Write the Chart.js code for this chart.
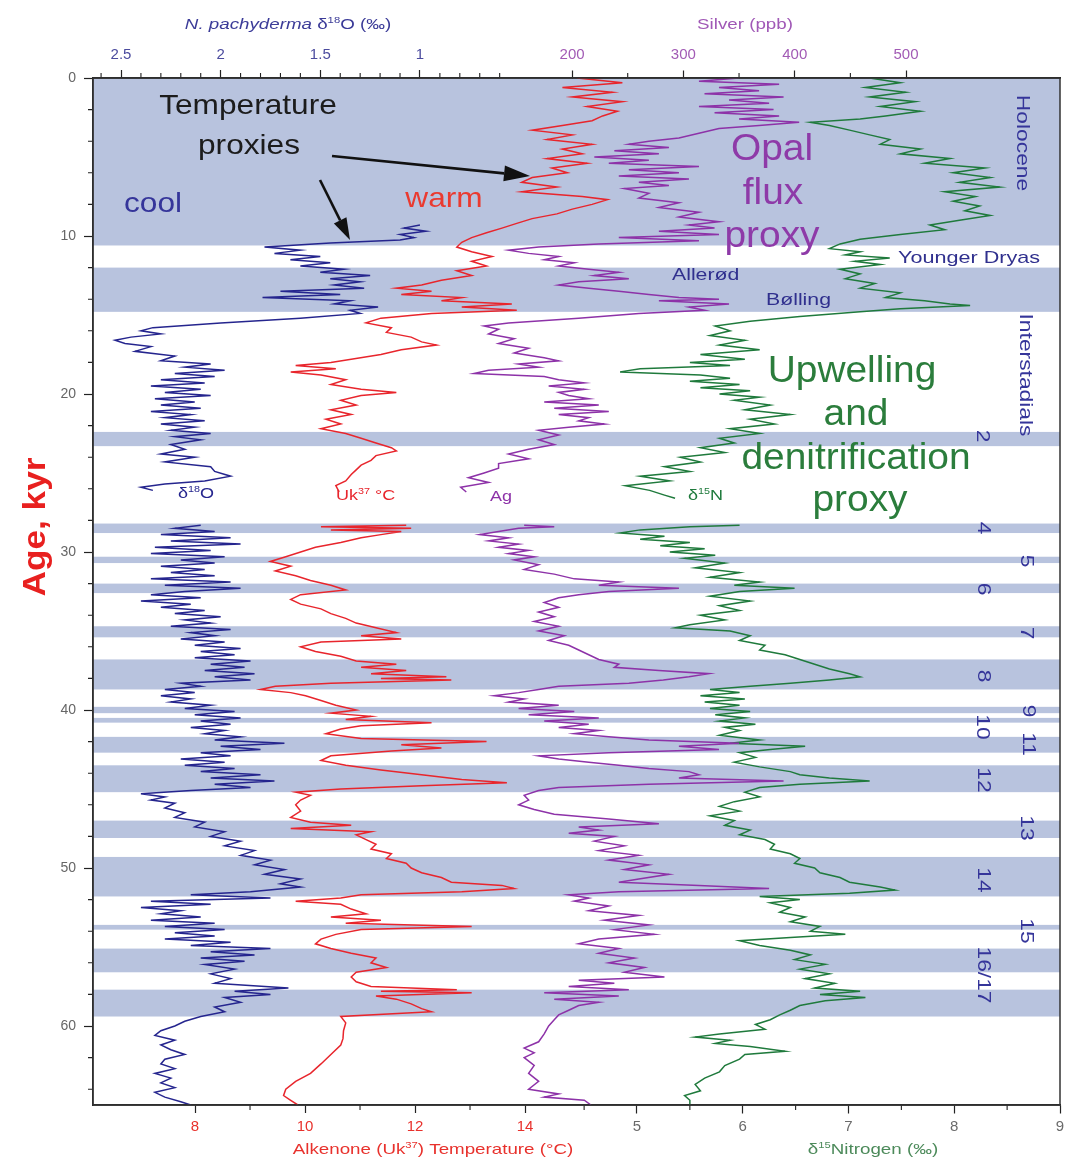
<!DOCTYPE html>
<html>
<head>
<meta charset="utf-8">
<script src="https://cdn.jsdelivr.net/npm/chart.js@4.4.1/dist/chart.umd.min.js"></script>
<style>
  html, body { margin: 0; padding: 0; background: #fff; }
  #wrap { width: 1066px; height: 1163px; position: relative; }
</style>
</head>
<body>
<div id="wrap"><canvas id="chart"></canvas></div>
<script>
// Santa Barbara Basin records against age (kyr). Each entry is [age, value];
// a null value breaks the line where the core has no data.
const d18oRecord = [
  [9.3, 1.00], [9.5, 1.08], [9.7, 0.97], [9.9, 1.10], [10.1, 1.03], [10.25, 1.10], [10.45, 1.45], [10.7, 1.78],
  [10.9, 1.60], [11.1, 1.73], [11.3, 1.50], [11.5, 1.65], [11.7, 1.45], [11.9, 1.60], [12.1, 1.38], [12.3, 1.50],
  [12.5, 1.25], [12.7, 1.45], [12.9, 1.30], [13.1, 1.43], [13.3, 1.28], [13.5, 1.70], [13.7, 1.40], [13.9, 1.79],
  [14.1, 1.35], [14.3, 1.43], [14.5, 1.21], [14.7, 1.35], [14.9, 1.30], [15.2, 1.60], [15.5, 2.00], [15.8, 2.34],
  [16.0, 2.40], [16.2, 2.30], [16.4, 2.45], [16.6, 2.53], [16.8, 2.48], [17.0, 2.35], [17.3, 2.43], [17.6, 2.23],
  [17.9, 2.30], [18.1, 2.05], [18.3, 2.18], [18.5, 1.98], [18.7, 2.23], [18.9, 2.03], [19.1, 2.30], [19.3, 2.08],
  [19.5, 2.35], [19.7, 2.10], [19.9, 2.28], [20.1, 2.05], [20.3, 2.33], [20.5, 2.13], [20.7, 2.30], [20.9, 2.10],
  [21.1, 2.35], [21.3, 2.15], [21.5, 2.28], [21.7, 2.08], [21.9, 2.30], [22.1, 2.13], [22.3, 2.25], [22.5, 2.05],
  [22.7, 2.23], [22.9, 2.10], [23.2, 2.25], [23.5, 2.18], [23.8, 2.30], [24.0, 2.13], [24.3, 2.28], [24.6, 2.05],
  [24.9, 2.03], [25.2, 1.95], [25.5, 2.08], [25.7, 2.28], [25.9, 2.40], [26.1, 2.34], [27.2, null],
  [28.3, 2.10], [28.5, 2.23], [28.7, 2.03], [28.9, 2.30], [29.1, 1.95], [29.3, 2.25], [29.5, 1.90], [29.7, 2.33],
  [29.9, 2.05], [30.1, 2.35], [30.3, 1.98], [30.5, 2.20], [30.7, 2.03], [30.9, 2.30], [31.1, 2.08], [31.3, 2.25],
  [31.5, 2.03], [31.7, 2.35], [31.9, 1.95], [32.1, 2.28], [32.3, 1.90], [32.5, 2.18], [32.7, 2.35], [32.9, 2.10],
  [33.1, 2.40], [33.3, 2.15], [33.5, 2.30], [33.7, 2.08], [33.9, 2.23], [34.1, 2.00], [34.3, 2.18], [34.5, 2.05],
  [34.7, 2.25], [34.9, 1.95], [35.1, 2.15], [35.3, 2.03], [35.5, 2.20], [35.7, 1.98], [35.9, 2.13], [36.1, 1.90],
  [36.3, 2.10], [36.5, 1.93], [36.7, 2.13], [36.9, 1.85], [37.1, 2.05], [37.3, 1.88], [37.5, 2.08], [37.7, 1.83],
  [37.9, 2.03], [38.1, 1.85], [38.3, 2.20], [38.5, 2.10], [38.7, 2.28], [38.9, 2.13], [39.1, 2.30], [39.3, 2.15],
  [39.5, 2.25], [39.7, 2.05], [39.9, 2.18], [40.1, 1.93], [40.3, 2.13], [40.5, 1.90], [40.7, 2.10], [40.9, 1.95],
  [41.1, 2.15], [41.3, 1.98], [41.5, 2.08], [41.7, 1.90], [41.9, 2.03], [42.1, 1.68], [42.3, 2.00], [42.5, 1.80],
  [42.7, 2.10], [42.9, 1.95], [43.1, 2.20], [43.3, 1.98], [43.5, 2.18], [43.7, 1.93], [43.9, 2.10], [44.1, 1.80],
  [44.3, 2.05], [44.5, 1.73], [44.7, 2.03], [44.9, 1.85], [45.1, 2.15], [45.3, 2.40], [45.5, 2.28], [45.7, 2.35],
  [45.9, 2.23], [46.2, 2.28], [46.5, 2.18], [46.8, 2.23], [47.1, 2.08], [47.4, 2.13], [47.7, 1.98], [48.0, 2.05],
  [48.3, 1.90], [48.6, 1.98], [48.9, 1.83], [49.2, 1.90], [49.5, 1.75], [49.8, 1.83], [50.1, 1.68], [50.4, 1.78],
  [50.7, 1.60], [51.0, 1.70], [51.2, 1.60], [51.5, 1.85], [51.7, 2.15], [51.9, 1.75], [52.1, 2.35], [52.3, 2.05],
  [52.5, 2.40], [52.7, 2.20], [52.9, 2.30], [53.1, 2.10], [53.3, 2.35], [53.5, 2.03], [53.7, 2.28], [53.9, 1.98],
  [54.1, 2.23], [54.3, 2.03], [54.5, 2.28], [54.7, 1.95], [54.9, 2.15], [55.1, 1.75], [55.3, 2.05], [55.5, 1.83],
  [55.7, 2.10], [55.9, 1.88], [56.1, 2.08], [56.4, 1.93], [56.7, 2.05], [57.0, 1.95], [57.3, 2.03], [57.6, 1.66],
  [57.8, 1.93], [58.0, 1.75], [58.2, 1.98], [58.5, 1.90], [58.8, 2.03], [59.1, 1.98], [59.4, 2.10], [59.7, 2.18],
  [60.0, 2.23], [60.3, 2.30], [60.6, 2.33], [60.9, 2.23], [61.2, 2.30], [61.5, 2.25], [61.8, 2.18], [62.1, 2.28],
  [62.4, 2.30], [62.7, 2.23], [63.0, 2.33], [63.3, 2.25], [63.6, 2.30], [63.9, 2.23], [64.2, 2.33], [64.5, 2.28],
  [64.8, 2.20], [65.0, 2.15]
];

const alkenoneRecord = [
  [0.0, 14.95], [0.3, 15.77], [0.6, 14.68], [0.9, 15.59], [1.2, 14.86], [1.5, 15.77], [1.8, 15.13], [2.1, 15.68],
  [2.4, 15.41], [2.7, 15.22], [3.0, 14.68], [3.3, 14.13], [3.6, 14.86], [3.9, 14.40], [4.2, 15.22], [4.5, 14.68],
  [4.8, 15.04], [5.1, 14.40], [5.4, 15.13], [5.7, 14.49], [6.0, 14.77], [6.3, 14.13], [6.6, 13.94], [6.9, 14.58],
  [7.2, 13.94], [7.5, 15.04], [7.7, 15.50], [8.0, 15.22], [8.3, 14.86], [8.6, 14.58], [8.9, 14.13], [9.2, 13.85],
  [9.5, 13.58], [9.8, 13.30], [10.1, 13.03], [10.4, 12.85], [10.7, 12.76], [11.0, 13.03], [11.3, 13.40], [11.6, 13.03],
  [11.9, 13.30], [12.2, 12.76], [12.5, 13.03], [12.8, 12.48], [13.1, 12.12], [13.3, 11.66], [13.5, 12.30], [13.7, 11.75],
  [13.9, 12.85], [14.1, 12.48], [14.3, 13.76], [14.5, 12.85], [14.7, 13.85], [14.9, 12.30], [15.2, 11.38], [15.5, 11.11],
  [15.8, 11.57], [16.1, 11.48], [16.4, 11.93], [16.7, 12.12], [16.9, 12.39], [17.2, 11.75], [17.5, 11.38], [17.8, 10.84],
  [18.0, 10.47], [18.2, 9.83], [18.4, 10.56], [18.6, 9.74], [18.8, 10.29], [19.1, 10.74], [19.4, 10.47], [19.7, 11.02],
  [19.9, 11.66], [20.1, 11.02], [20.4, 10.65], [20.7, 10.93], [21.0, 10.47], [21.3, 10.84], [21.6, 10.38], [21.9, 10.65],
  [22.2, 10.29], [22.5, 10.74], [22.8, 11.02], [23.1, 11.29], [23.4, 11.57], [23.6, 11.66], [23.9, 11.29], [24.2, 11.20],
  [24.5, 11.02], [24.8, 10.93], [25.1, 10.84], [25.5, 10.74], [25.8, 10.56], [26.2, 10.62], [27.2, null],
  [28.3, 11.84], [28.4, 10.29], [28.5, 11.93], [28.6, 10.47], [28.7, 11.75], [28.9, 11.38], [29.1, 11.02], [29.4, 10.65],
  [29.7, 10.19], [30.0, 9.92], [30.3, 9.65], [30.6, 9.37], [30.9, 9.74], [31.2, 9.46], [31.5, 9.83], [31.8, 10.10],
  [32.1, 10.47], [32.4, 10.74], [32.7, 9.92], [33.0, 9.74], [33.3, 9.92], [33.6, 10.29], [33.9, 10.47], [34.2, 10.74],
  [34.5, 10.93], [34.8, 11.29], [35.1, 11.66], [35.3, 11.02], [35.5, 11.75], [35.7, 10.29], [36.0, 9.92], [36.3, 10.19],
  [36.6, 10.65], [36.9, 10.93], [37.1, 11.66], [37.3, 11.02], [37.5, 11.84], [37.7, 11.20], [37.9, 12.57], [38.0, 11.38],
  [38.1, 12.66], [38.3, 10.47], [38.5, 9.46], [38.7, 9.19], [38.9, 9.74], [39.1, 10.01], [39.4, 10.29], [39.7, 10.56],
  [40.0, 10.93], [40.2, 10.47], [40.4, 11.20], [40.6, 10.74], [40.8, 12.30], [41.0, 11.02], [41.2, 10.65], [41.5, 10.38],
  [41.8, 11.02], [42.0, 13.30], [42.2, 11.75], [42.4, 12.48], [42.6, 11.57], [42.9, 10.47], [43.2, 10.29], [43.5, 10.74],
  [43.8, 11.38], [44.1, 12.12], [44.4, 12.85], [44.6, 13.67], [44.8, 12.12], [45.0, 10.65], [45.2, 9.83], [45.4, 10.10],
  [45.7, 9.92], [46.0, 9.83], [46.4, 9.92], [46.8, 9.74], [47.1, 10.10], [47.3, 10.84], [47.5, 9.74], [47.7, 11.20],
  [47.9, 10.93], [48.2, 11.11], [48.5, 11.29], [48.8, 11.20], [49.1, 11.57], [49.4, 11.48], [49.7, 11.84], [50.0, 11.93],
  [50.3, 12.12], [50.6, 12.48], [50.9, 12.66], [51.1, 13.58], [51.3, 13.80], [51.5, 12.85], [51.7, 11.02], [51.9, 10.65],
  [52.1, 9.83], [52.3, 10.65], [52.6, 10.84], [52.9, 11.11], [53.1, 10.47], [53.3, 11.38], [53.5, 10.74], [53.7, 13.03],
  [53.9, 11.02], [54.2, 10.56], [54.5, 10.29], [54.8, 10.19], [55.1, 10.47], [55.4, 10.84], [55.7, 11.29], [56.0, 11.20],
  [56.3, 11.48], [56.6, 10.93], [56.9, 10.84], [57.2, 10.93], [57.5, 11.20], [57.7, 12.76], [57.8, 11.38], [57.9, 13.03],
  [58.1, 11.29], [58.3, 11.66], [58.6, 11.93], [58.9, 12.12], [59.1, 12.30], [59.4, 10.65], [59.8, 10.74], [60.3, 10.70],
  [60.8, 10.69], [61.2, 10.65], [61.8, 10.47], [62.4, 10.29], [63.0, 10.10], [63.5, 9.83], [64.0, 9.65], [64.4, 9.61],
  [64.7, 9.74], [65.0, 9.87]
];

const silverRecord = [
  [0.0, 350], [0.2, 314], [0.4, 386], [0.6, 332], [0.8, 368], [1.0, 319], [1.2, 390], [1.4, 341],
  [1.6, 377], [1.8, 314], [2.0, 381], [2.2, 328], [2.4, 386], [2.6, 350], [2.8, 404], [3.0, 368],
  [3.2, 332], [3.5, 314], [3.8, 296], [4.0, 269], [4.2, 251], [4.4, 287], [4.6, 238], [4.8, 278],
  [5.0, 220], [5.2, 269], [5.4, 233], [5.6, 314], [5.8, 251], [6.0, 296], [6.2, 242], [6.4, 305],
  [6.6, 260], [6.8, 287], [7.0, 247], [7.3, 269], [7.6, 260], [7.9, 296], [8.2, 278], [8.5, 314],
  [8.8, 296], [9.1, 332], [9.3, 305], [9.5, 328], [9.7, 278], [9.9, 332], [10.1, 242], [10.3, 314],
  [10.5, 224], [10.7, 170], [10.9, 143], [11.1, 161], [11.3, 188], [11.5, 175], [11.7, 202], [11.9, 188],
  [12.1, 215], [12.3, 242], [12.5, 220], [12.7, 251], [12.9, 206], [13.1, 188], [13.3, 215], [13.5, 242],
  [13.7, 269], [13.9, 296], [14.0, 332], [14.1, 278], [14.3, 341], [14.5, 305], [14.7, 319], [14.9, 260],
  [15.2, 206], [15.5, 143], [15.7, 121], [15.9, 134], [16.2, 125], [16.5, 148], [16.8, 134], [17.1, 161],
  [17.4, 148], [17.7, 175], [17.9, 188], [18.1, 152], [18.3, 170], [18.5, 125], [18.7, 112], [18.9, 175],
  [19.1, 188], [19.3, 211], [19.5, 179], [19.7, 211], [19.9, 188], [20.1, 197], [20.3, 215], [20.5, 175],
  [20.7, 224], [20.9, 184], [21.1, 233], [21.3, 188], [21.5, 215], [21.7, 206], [21.9, 229], [22.1, 197],
  [22.3, 170], [22.6, 188], [22.9, 170], [23.2, 184], [23.5, 161], [23.8, 143], [24.1, 161], [24.4, 134],
  [24.7, 134], [25.0, 121], [25.3, 107], [25.6, 125], [25.9, 100], [26.2, 105], [27.2, null],
  [28.3, 157], [28.4, 184], [28.5, 152], [28.7, 134], [28.9, 117], [29.1, 143], [29.3, 125], [29.5, 152],
  [29.7, 134], [29.9, 161], [30.1, 143], [30.3, 166], [30.5, 148], [30.8, 170], [31.1, 157], [31.4, 184],
  [31.7, 202], [31.9, 242], [32.1, 224], [32.3, 296], [32.5, 233], [32.7, 206], [32.9, 188], [33.2, 175],
  [33.5, 188], [33.8, 170], [34.1, 184], [34.4, 166], [34.7, 188], [35.0, 170], [35.3, 193], [35.6, 179],
  [35.9, 197], [36.2, 206], [36.5, 215], [36.8, 224], [37.1, 242], [37.3, 238], [37.5, 278], [37.7, 323],
  [37.9, 305], [38.1, 282], [38.3, 251], [38.5, 188], [38.7, 170], [38.9, 152], [39.1, 130], [39.3, 157],
  [39.5, 143], [39.7, 188], [39.9, 152], [40.1, 202], [40.3, 161], [40.5, 224], [40.7, 175], [40.9, 215],
  [41.1, 188], [41.3, 224], [41.5, 202], [41.7, 233], [41.9, 269], [42.1, 350], [42.3, 296], [42.5, 332],
  [42.7, 233], [42.9, 170], [43.1, 188], [43.3, 215], [43.5, 242], [43.7, 269], [43.9, 305], [44.1, 314],
  [44.3, 296], [44.5, 390], [44.7, 269], [44.9, 188], [45.1, 170], [45.4, 157], [45.7, 161], [46.0, 152],
  [46.3, 166], [46.6, 184], [46.9, 233], [47.2, 278], [47.4, 206], [47.6, 224], [47.8, 197], [48.0, 238],
  [48.3, 220], [48.6, 247], [48.9, 224], [49.2, 260], [49.5, 233], [49.8, 269], [50.1, 247], [50.4, 287],
  [50.7, 260], [50.9, 242], [51.1, 314], [51.3, 377], [51.5, 242], [51.7, 197], [51.9, 215], [52.1, 202],
  [52.4, 233], [52.7, 215], [53.0, 260], [53.3, 229], [53.6, 269], [53.9, 238], [54.2, 274], [54.5, 224],
  [54.8, 206], [55.1, 242], [55.4, 224], [55.7, 256], [56.0, 233], [56.3, 265], [56.6, 247], [56.9, 283],
  [57.1, 206], [57.3, 238], [57.5, 197], [57.7, 251], [57.9, 175], [58.1, 242], [58.3, 184], [58.5, 224],
  [58.7, 206], [59.0, 197], [59.3, 188], [59.6, 184], [60.0, 179], [60.5, 175], [61.0, 170], [61.4, 157],
  [61.7, 166], [62.0, 157], [62.5, 166], [63.0, 161], [63.5, 170], [64.0, 161], [64.3, 188], [64.5, 175],
  [64.7, 211], [65.0, 217]
];

const nitrogenRecord = [
  [0.0, 7.20], [0.3, 7.49], [0.6, 7.16], [0.9, 7.54], [1.2, 7.20], [1.5, 7.63], [1.8, 7.30], [2.1, 7.68],
  [2.4, 7.35], [2.6, 7.11], [2.8, 6.64], [3.0, 6.82], [3.3, 7.01], [3.6, 7.20], [3.9, 7.39], [4.2, 7.30],
  [4.5, 7.68], [4.8, 7.49], [5.1, 7.96], [5.4, 7.72], [5.7, 8.29], [6.0, 7.99], [6.3, 8.34], [6.6, 8.05],
  [6.9, 8.43], [7.2, 7.91], [7.5, 8.20], [7.8, 7.99], [8.1, 8.24], [8.4, 8.10], [8.7, 8.34], [9.0, 8.05],
  [9.3, 7.77], [9.6, 7.91], [9.9, 7.49], [10.2, 7.11], [10.5, 6.92], [10.8, 6.82], [11.0, 7.11], [11.2, 6.97],
  [11.4, 7.39], [11.6, 7.06], [11.8, 7.30], [12.1, 6.92], [12.4, 7.11], [12.7, 6.97], [13.0, 7.25], [13.3, 7.11],
  [13.6, 7.49], [13.9, 7.35], [14.1, 7.72], [14.3, 7.96], [14.4, 8.15], [14.6, 7.49], [14.8, 7.11], [15.1, 6.54],
  [15.4, 6.07], [15.7, 5.74], [16.0, 5.88], [16.3, 5.69], [16.6, 6.02], [16.9, 5.78], [17.2, 6.16], [17.5, 5.60],
  [17.8, 6.02], [18.0, 5.50], [18.2, 5.88], [18.4, 5.03], [18.6, 4.84], [18.8, 5.60], [19.0, 5.88], [19.2, 5.50],
  [19.4, 5.97], [19.6, 5.60], [19.8, 6.07], [20.0, 5.78], [20.2, 6.16], [20.4, 5.92], [20.7, 6.26], [21.0, 6.02],
  [21.3, 6.45], [21.6, 6.07], [21.9, 6.30], [22.2, 5.88], [22.5, 6.16], [22.8, 5.78], [23.1, 5.92], [23.4, 5.60],
  [23.7, 5.83], [24.0, 5.41], [24.3, 5.60], [24.6, 5.26], [24.9, 5.50], [25.2, 5.03], [25.5, 5.31], [25.8, 4.89],
  [26.1, 5.12], [26.4, 5.26], [26.6, 5.36], [27.2, null],
  [28.3, 5.97], [28.4, 5.50], [28.6, 5.03], [28.8, 4.84], [29.0, 5.26], [29.2, 5.03], [29.4, 5.50], [29.6, 5.22],
  [29.8, 5.64], [30.0, 5.31], [30.2, 5.74], [30.4, 5.45], [30.7, 5.83], [31.0, 5.55], [31.3, 5.97], [31.6, 5.69],
  [31.9, 6.16], [32.1, 5.92], [32.3, 6.49], [32.5, 5.97], [32.8, 5.69], [33.1, 6.07], [33.4, 5.78], [33.7, 5.97],
  [34.0, 5.60], [34.3, 5.83], [34.6, 5.50], [34.8, 5.36], [35.0, 5.88], [35.3, 6.07], [35.6, 5.97], [35.9, 6.21],
  [36.2, 6.16], [36.5, 6.40], [36.8, 6.54], [37.1, 6.68], [37.4, 6.82], [37.7, 7.01], [37.9, 7.11], [38.1, 6.82],
  [38.3, 6.45], [38.5, 6.07], [38.7, 5.69], [38.9, 5.97], [39.1, 5.60], [39.3, 6.02], [39.5, 5.64], [39.7, 5.97],
  [39.9, 5.69], [40.1, 6.07], [40.3, 5.74], [40.5, 6.02], [40.7, 5.78], [40.9, 6.12], [41.1, 5.83], [41.3, 5.97],
  [41.6, 5.78], [41.9, 6.16], [42.1, 5.88], [42.3, 6.59], [42.5, 6.26], [42.7, 5.97], [43.0, 6.12], [43.3, 5.92],
  [43.6, 6.16], [43.9, 6.45], [44.1, 6.54], [44.3, 6.82], [44.5, 7.20], [44.7, 6.54], [44.9, 6.16], [45.2, 6.02],
  [45.5, 6.16], [45.8, 5.92], [46.1, 5.78], [46.4, 5.97], [46.7, 5.69], [47.0, 5.92], [47.3, 5.83], [47.6, 6.07],
  [47.9, 5.97], [48.2, 6.21], [48.5, 6.30], [48.8, 6.26], [49.1, 6.45], [49.4, 6.54], [49.7, 6.49], [50.0, 6.68],
  [50.3, 6.73], [50.6, 6.92], [50.9, 7.01], [51.2, 7.30], [51.4, 7.44], [51.6, 7.01], [51.8, 6.16], [52.0, 6.54],
  [52.2, 6.26], [52.5, 6.45], [52.8, 6.35], [53.1, 6.59], [53.4, 6.45], [53.7, 6.73], [54.0, 6.64], [54.2, 6.97],
  [54.4, 6.45], [54.6, 5.97], [54.9, 6.16], [55.2, 6.45], [55.5, 6.64], [55.8, 6.49], [56.1, 6.78], [56.4, 6.54],
  [56.7, 6.82], [57.0, 6.59], [57.3, 6.87], [57.6, 6.68], [57.8, 7.11], [58.0, 6.73], [58.2, 7.16], [58.4, 6.78],
  [58.7, 6.54], [59.0, 6.45], [59.3, 6.35], [59.6, 6.26], [59.9, 6.12], [60.2, 6.21], [60.5, 5.78], [60.7, 5.55],
  [60.9, 5.88], [61.1, 5.74], [61.3, 6.07], [61.6, 6.40], [61.8, 6.02], [62.1, 5.97], [62.5, 5.83], [62.9, 5.78],
  [63.3, 5.64], [63.7, 5.55], [64.1, 5.60], [64.4, 5.45], [64.7, 5.50], [65.0, 5.50]
];

// Interstadial and Holocene intervals (kyr)
const bandTop =    [0.0, 12.0, 22.4, 28.2, 30.3, 32.0, 34.7, 36.8, 39.8, 40.5, 41.7, 43.5, 47.0, 49.3, 53.6, 55.1, 57.7];
const bandBottom = [10.6, 14.8, 23.3, 28.8, 30.7, 32.6, 35.4, 38.7, 40.2, 40.8, 42.7, 45.2, 48.1, 51.8, 53.9, 56.6, 59.4];

// Major tick values per axis
const ageTicks = [0, 10, 20, 30, 40, 50, 60];
const tempTicks = [8, 10, 12, 14];
const nitrogenTicks = [5, 6, 7, 8, 9];
const d18oTicks = [2.5, 2, 1.5, 1];
const silverTicks = [200, 300, 400, 500];

const ageMinor = [];
for (let a = 2; a <= 64; a += 2) if (a % 10) ageMinor.push(a);
const tempMinor = [9, 11, 13];
const nitrogenMinor = [4.5, 5.5, 6.5, 7.5, 8.5];
const d18oMinor = [];
for (let k = 6; k <= 26; k++) if (k % 5) d18oMinor.push(k / 10);
const silverMinor = [250, 350, 450];

const FONT = '"Liberation Sans", Arial, Helvetica, sans-serif';
const INK = '#222';
const BAND = '#b8c3de';

const COLORS = {
  d18o: '#25258e',
  temp: '#e8252c',
  silver: '#8d32a8',
  nitrogen: '#1f7a3c',
  label: '#35359a'
};

function toPoints(record) {
  return record.map(([age, v]) => ({ x: v, y: age }));
}

// Text with optional superscripts, horizontal stretch and rotation
function drawRich(ctx, parts, x, y, o) {
  ctx.save();
  ctx.translate(x, y);
  if (o.rotate) ctx.rotate(o.rotate);
  ctx.scale(o.sx || 1, 1);
  ctx.fillStyle = o.color;
  ctx.textBaseline = 'middle';
  ctx.textAlign = 'left';
  const fontOf = p => `${p.italic ? 'italic ' : ''}${o.weight || 'normal'} ${p.sup ? Math.round(o.size * 0.62) : o.size}px ${FONT}`;
  let total = 0;
  parts.forEach(p => { ctx.font = fontOf(p); total += ctx.measureText(p.t).width; });
  let cx = o.align === 'left' ? 0 : o.align === 'right' ? -total : -total / 2;
  parts.forEach(p => {
    ctx.font = fontOf(p);
    ctx.fillText(p.t, cx, p.sup ? -o.size * 0.33 : 0);
    cx += ctx.measureText(p.t).width;
  });
  ctx.restore();
}

function arrow(ctx, x0, y0, x1, y1, head, width) {
  const ang = Math.atan2(y1 - y0, x1 - x0);
  const bx = x1 - head * Math.cos(ang), by = y1 - head * Math.sin(ang);
  ctx.beginPath();
  ctx.moveTo(x0, y0);
  ctx.lineTo(bx, by);
  ctx.stroke();
  ctx.beginPath();
  ctx.moveTo(x1, y1);
  ctx.lineTo(bx + width / 2 * Math.sin(ang), by - width / 2 * Math.cos(ang));
  ctx.lineTo(bx - width / 2 * Math.sin(ang), by + width / 2 * Math.cos(ang));
  ctx.closePath();
  ctx.fill();
}

const S = t => ({ t });
const SUP = t => ({ t, sup: true });

const notes = [
  { parts: [S('Temperature')], x: 248, y: 106, size: 28, sx: 1.13, color: '#1c1c1c' },
  { parts: [S('proxies')], x: 249, y: 146, size: 28, sx: 1.13, color: '#1c1c1c' },
  { parts: [S('cool')], x: 153, y: 204, size: 28, sx: 1.13, color: COLORS.label },
  { parts: [S('warm')], x: 444, y: 199, size: 28, sx: 1.13, color: '#ea3a30' },
  { parts: [S('Opal')], x: 772, y: 150, size: 36, sx: 1.08, color: '#8e3aa8' },
  { parts: [S('flux')], x: 773, y: 194, size: 36, sx: 1.08, color: '#8e3aa8' },
  { parts: [S('proxy')], x: 772, y: 237, size: 36, sx: 1.08, color: '#8e3aa8' },
  { parts: [S('Upwelling')], x: 852, y: 372, size: 36, sx: 1.08, color: '#2b7d3c' },
  { parts: [S('and')], x: 856, y: 415, size: 36, sx: 1.08, color: '#2b7d3c' },
  { parts: [S('denitrification')], x: 856, y: 459, size: 36, sx: 1.08, color: '#2b7d3c' },
  { parts: [S('proxy')], x: 860, y: 501, size: 36, sx: 1.08, color: '#2b7d3c' },
  { parts: [S('Younger Dryas')], x: 898, y: 258, size: 17, sx: 1.27, color: '#30308e', align: 'left' },
  { parts: [S('Allerød')], x: 672, y: 275, size: 17, sx: 1.25, color: '#30308e', align: 'left' },
  { parts: [S('Bølling')], x: 766, y: 300, size: 17, sx: 1.25, color: '#30308e', align: 'left' },
  // series tags at the glacial gap
  { parts: [S('δ'), SUP('18'), S('O')], x: 178, y: 494, size: 15, sx: 1.2, color: COLORS.d18o, align: 'left' },
  { parts: [S('Uk'), SUP('37'), S(' °C')], x: 336, y: 496, size: 15, sx: 1.2, color: COLORS.temp, align: 'left' },
  { parts: [S('Ag')], x: 490, y: 497, size: 15, sx: 1.2, color: COLORS.silver, align: 'left' },
  { parts: [S('δ'), SUP('15'), S('N')], x: 688, y: 496, size: 15, sx: 1.2, color: COLORS.nitrogen, align: 'left' },
  // axis titles
  { parts: [{ t: 'N. pachyderma ', italic: true }, S('δ'), SUP('18'), S('O (‰)')], x: 288, y: 25, size: 15, sx: 1.25, color: '#3b3b98' },
  { parts: [S('Silver (ppb)')], x: 745, y: 25, size: 15, sx: 1.25, color: '#a058b6' },
  { parts: [S('Alkenone (Uk'), SUP('37'), S(') Temperature (°C)')], x: 433, y: 1150, size: 15, sx: 1.25, color: '#e8312c' },
  { parts: [S('δ'), SUP('15'), S('Nitrogen (‰)')], x: 873, y: 1150, size: 15, sx: 1.25, color: '#4c8a5a' },
  { parts: [S('Age, kyr')], x: 36, y: 527, size: 32, sx: 1.1, color: '#e8201f', weight: 'bold', rotate: -Math.PI / 2 }
];

// Labels written down the right side, reading top to bottom
const sideLabels = [
  ['Holocene', 1022, 143], ['Interstadials', 1025, 375],
  ['2', 982, 436], ['4', 983, 528], ['5', 1026, 561], ['6', 983, 589], ['7', 1026, 633],
  ['8', 983, 676], ['9', 1028, 711], ['10', 982, 727], ['11', 1028, 744], ['12', 983, 780],
  ['13', 1026, 828], ['14', 983, 880], ['15', 1026, 931], ['16/17', 983, 975]
];

const overlay = {
  id: 'overlay',
  beforeDraw(chart) {
    const { ctx, chartArea: a, scales: { y } } = chart;
    ctx.save();
    ctx.fillStyle = '#fff';
    ctx.fillRect(0, 0, chart.width, chart.height);
    ctx.fillStyle = BAND;
    bandTop.forEach((t, i) => {
      const y0 = y.getPixelForValue(t);
      const y1 = y.getPixelForValue(bandBottom[i]);
      ctx.fillRect(a.left, y0, a.right - a.left, y1 - y0);
    });
    ctx.restore();
  },
  afterDraw(chart) {
    const { ctx, chartArea: a, scales } = chart;
    ctx.save();

    // minor tick marks
    ctx.strokeStyle = INK;
    ctx.lineWidth = 1.1;
    ctx.beginPath();
    ageMinor.forEach(v => {
      const p = scales.y.getPixelForValue(v);
      ctx.moveTo(a.left, p); ctx.lineTo(a.left - 5, p);
    });
    tempMinor.forEach(v => {
      const p = scales.xTemp.getPixelForValue(v);
      ctx.moveTo(p, a.bottom); ctx.lineTo(p, a.bottom + 5);
    });
    nitrogenMinor.forEach(v => {
      const p = scales.xN.getPixelForValue(v);
      ctx.moveTo(p, a.bottom); ctx.lineTo(p, a.bottom + 5);
    });
    d18oMinor.forEach(v => {
      const p = scales.xO.getPixelForValue(v);
      ctx.moveTo(p, a.top); ctx.lineTo(p, a.top - 5);
    });
    silverMinor.forEach(v => {
      const p = scales.xAg.getPixelForValue(v);
      ctx.moveTo(p, a.top); ctx.lineTo(p, a.top - 5);
    });
    ctx.stroke();

    // plot frame
    ctx.lineWidth = 1.5;
    ctx.strokeStyle = '#333';
    ctx.strokeRect(a.left, a.top, a.right - a.left, a.bottom - a.top);

    // arrows from the "Temperature proxies" note
    ctx.strokeStyle = '#111';
    ctx.fillStyle = '#111';
    ctx.lineWidth = 2.6;
    arrow(ctx, 332, 156, 530, 176, 26, 16);
    arrow(ctx, 320, 180, 350, 240, 22, 14);

    notes.forEach(n => drawRich(ctx, n.parts, n.x, n.y, n));
    sideLabels.forEach(([t, x, y]) =>
      drawRich(ctx, [S(t)], x, y, { size: 19, sx: 1.2, color: COLORS.label, rotate: Math.PI / 2 }));

    ctx.restore();
  }
};

const tickFont = { family: FONT, size: 15 };
const plain = v => String(v);
// edge labels may overhang the frame; keep them from shrinking the plot
const noEdgePadding = s => { s.paddingLeft = 0; s.paddingRight = 0; };

new Chart(document.getElementById('chart'), {
  type: 'scatter',
  data: {
    datasets: [
      { label: 'δ18O', data: toPoints(d18oRecord), xAxisID: 'xO', borderColor: COLORS.d18o },
      { label: 'Uk37', data: toPoints(alkenoneRecord), xAxisID: 'xTemp', borderColor: COLORS.temp },
      { label: 'Ag', data: toPoints(silverRecord), xAxisID: 'xAg', borderColor: COLORS.silver },
      { label: 'δ15N', data: toPoints(nitrogenRecord), xAxisID: 'xN', borderColor: COLORS.nitrogen }
    ].map(d => Object.assign(d, {
      yAxisID: 'y', showLine: true, pointRadius: 0, borderWidth: 1.5,
      tension: 0, spanGaps: false, fill: false
    }))
  },
  options: {
    responsive: true,
    maintainAspectRatio: false,
    animation: false,
    devicePixelRatio: 1,
    layout: { padding: { left: 0, right: 6, top: 0, bottom: 0 } },
    plugins: { legend: { display: false }, tooltip: { enabled: false } },
    scales: {
      y: {
        type: 'linear', position: 'left', reverse: true, min: 0, max: 65,
        afterBuildTicks: s => { s.ticks = ageTicks.map(value => ({ value })); },
        afterFit: s => { s.width = 93; },
        ticks: { color: '#666', font: { family: FONT, size: 14 }, padding: 8, callback: plain },
        grid: { drawOnChartArea: false, tickLength: 9, color: INK, tickWidth: 1.2 },
        border: { display: true, color: INK, width: 1.5 }
      },
      xTemp: {
        type: 'linear', position: 'bottom', min: 6.145, max: 23.727,
        afterBuildTicks: s => { s.ticks = tempTicks.map(value => ({ value })); },
        afterFit: s => { s.height = 58; noEdgePadding(s); },
        ticks: { color: '#e8312c', font: tickFont, padding: 5, callback: plain, maxRotation: 0, autoSkip: false },
        grid: { drawOnChartArea: false, tickLength: 8, color: INK, tickWidth: 1.2 },
        border: { display: true, color: INK, width: 1.5 }
      },
      xN: {
        type: 'linear', position: { y: 65 }, min: -0.144, max: 9,
        afterBuildTicks: s => { s.ticks = nitrogenTicks.map(value => ({ value })); },
        afterFit: noEdgePadding,
        ticks: { color: '#6a6a6a', font: tickFont, padding: 5, callback: plain, maxRotation: 0, autoSkip: false },
        grid: { drawOnChartArea: false, tickLength: 8, color: INK, tickWidth: 1.2 },
        border: { display: true, color: INK, width: 1.5 }
      },
      xO: {
        type: 'linear', position: 'top', reverse: true, min: -2.2115, max: 2.6405,
        afterBuildTicks: s => { s.ticks = d18oTicks.map(value => ({ value })); },
        afterFit: s => { s.height = 78; noEdgePadding(s); },
        ticks: { color: '#4b4b9e', font: tickFont, padding: 6, callback: plain, maxRotation: 0, autoSkip: false },
        grid: { drawOnChartArea: false, tickLength: 8, color: INK, tickWidth: 1.2 },
        border: { display: true, color: INK, width: 1.5 }
      },
      xAg: {
        type: 'linear', position: { y: 0 }, min: -230.3, max: 638.3,
        afterBuildTicks: s => { s.ticks = silverTicks.map(value => ({ value })); },
        afterFit: noEdgePadding,
        ticks: { color: '#a25bb5', font: tickFont, padding: -24, callback: plain, maxRotation: 0, autoSkip: false },
        grid: { drawOnChartArea: false, tickLength: -8, color: INK, tickWidth: 1.2 },
        border: { display: true, color: INK, width: 1.5 }
      }
    }
  },
  plugins: [overlay]
});
</script>
</body>
</html>
